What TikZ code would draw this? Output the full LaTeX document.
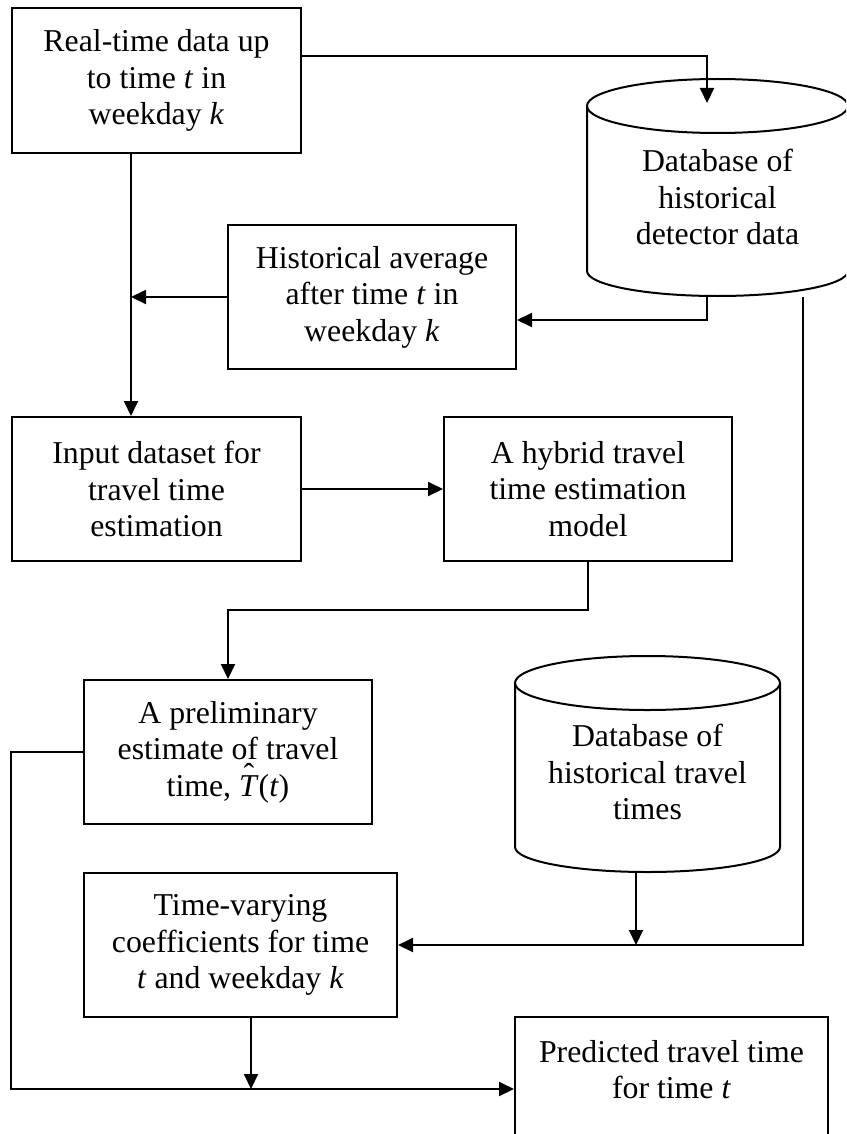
\documentclass[tikz,border=0pt]{standalone}
\usepackage{fontspec}
\setmainfont{Liberation Serif}
\usetikzlibrary{arrows.meta}

% italic T carrying a circumflex, for the estimate \hat T(t)
\newcommand{\hatT}{\textit{T}\kern-0.473em\raisebox{0.33em}{\symbol{"02C6}}\kern0.14em}

\begin{document}
\begin{tikzpicture}[x=1pt, y=-1pt,
  every node/.style={font=\fontsize{31.8}{36.5}\selectfont, align=center, inner sep=0pt},
  stepbox/.style={draw, line width=2pt, anchor=north west, minimum width=288, minimum height=144},
  flow/.style={line width=2pt, -{Triangle[length=15pt,width=14pt]}},
  drum/.style={line width=2pt}
]
\useasboundingbox (0,0) rectangle (846,1134);
\clip (0,0) rectangle (846,1134);

% process boxes
\node[stepbox, minimum width=289, minimum height=145] (rt) at (11,7)
  {Real-time data up\\to time \textit{t} in\\weekday \textit{k}};
\node[stepbox] (ha) at (227,224)
  {Historical average\\after time \textit{t} in\\weekday \textit{k}};
\node[stepbox, minimum width=289] (inp) at (11,416)
  {Input dataset for\\travel time\\estimation};
\node[stepbox] (hy) at (443,416)
  {A hybrid travel\\time estimation\\model};
\node[stepbox] (pre) at (83,679)
  {A preliminary\\estimate of travel\\time, \hatT(\textit{t})};
\node[stepbox, minimum width=313] (tv) at (83,872)
  {Time-varying\\coefficients for time\\\textit{t} and weekday \textit{k}};
\node[stepbox, minimum width=313,
  label={[name=pdtext, anchor=north, yshift=-24pt]north:{Predicted travel time\\for time \textit{t}}}]
  (pd) at (514,1016) {};

% database of historical detector data
\draw[drum] (587,106) -- (587,271) arc (180:0:130.5 and 25) -- (848,106);
\draw[drum] (717.5,106) ellipse [x radius=130.5, y radius=27];
\node (db1) at (717.5,197) {Database of\\historical\\detector data};
\coordinate (db1in) at (707,103);
\coordinate (db1out) at (707,296);
\coordinate (db1side) at (803,297);

% database of historical travel times
\draw[drum] (515,683) -- (515,847) arc (180:0:132.5 and 25) -- (780,683);
\draw[drum] (647.5,683) ellipse [x radius=132.5, y radius=27];
\node (db2) at (647.5,772) {Database of\\historical travel\\times};
\coordinate (db2out) at (636,872);

% connectors
\draw[flow] (rt.east |- 0,56) -| (db1in);
\draw[flow] (rt.south -| 131,0) -- (inp.north -| 131,0);
\draw[flow] (ha.west) -- (ha.west -| 131,0);
\draw[flow] (db1out) |- (ha.east |- 0,320);
\draw[flow] (inp.east) -- (hy.west);
\draw[flow] (hy.south) -- ++(0,48) -| (pre.north);
\draw[flow] (pre.west) -| (pd.west -| 11,0) -- (pd.west);
\draw[flow] (db1side) |- (tv.east);
\draw[flow] (db2out) -- (db2out |- tv.east);
\draw[flow] (tv.south -| 251,0) -- (pd.west -| 251,0);
\end{tikzpicture}
\end{document}
